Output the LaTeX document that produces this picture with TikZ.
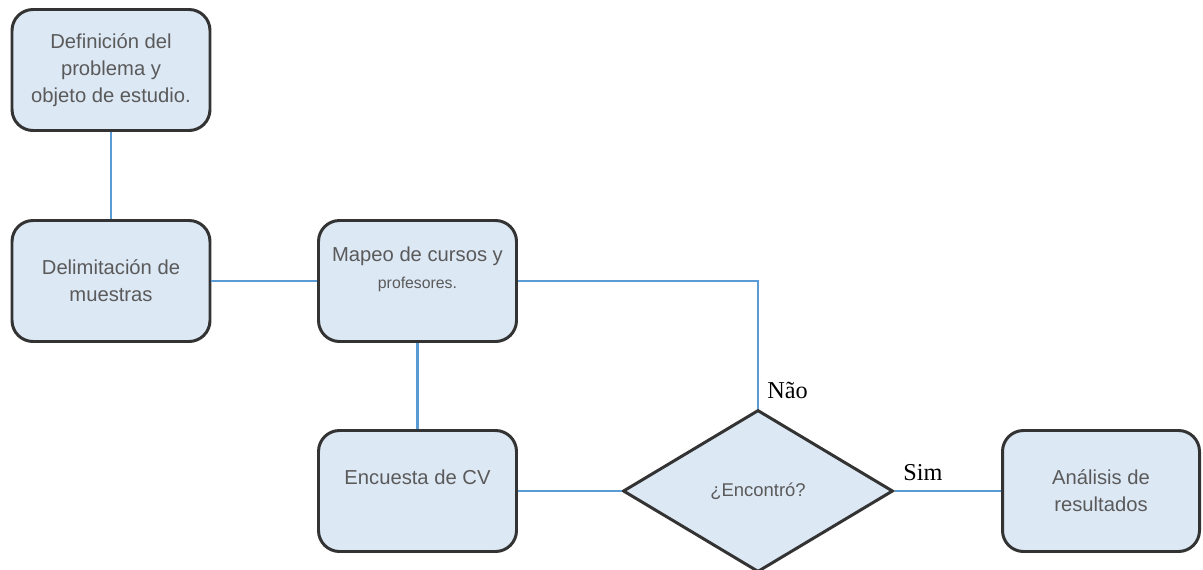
\documentclass[tikz,border=0pt]{standalone}
\usepackage{fontspec}
\setmainfont{Liberation Serif}
\newfontfamily\boxfont{Liberation Sans}
\usetikzlibrary{shapes.geometric}
\definecolor{boxfill}{HTML}{DDE8F5}
\definecolor{boxline}{HTML}{333333}
\definecolor{linkblue}{HTML}{5B9BD5}
\definecolor{txtgray}{HTML}{5A5A5A}
\tikzset{
  procbox/.style={draw=boxline, line width=1.7pt, fill=boxfill, rounded corners=0.42cm,
    minimum width=3.96cm, minimum height=2.42cm, align=center, text=txtgray,
    font=\boxfont\fontsize{11.5}{15.3}\selectfont, inner sep=2pt},
  decbox/.style={draw=boxline, line width=1.7pt, fill=boxfill, diamond,
    minimum width=5.40cm, minimum height=3.24cm, inner sep=0pt, text=txtgray,
    font=\boxfont\fontsize{10.5}{13}\selectfont},
  link/.style={draw=linkblue, line width=1.7pt},
  lbl/.style={font=\fontsize{13.8}{16}\selectfont, text=black, inner sep=0pt}
}
\begin{document}
\begin{tikzpicture}
\useasboundingbox (0,0) rectangle (24.06,-11.40);
\node[procbox] (def) at (2.22,-1.40) {Definición del\\problema y\\objeto de estudio.};
\node[procbox] (del) at (2.22,-5.62) {Delimitación de\\muestras};
\node[procbox] (map) at (8.35,-5.62) {Mapeo de cursos y\\{\fontsize{9}{15.3}\selectfont profesores.}\\\mbox{}};
\node[procbox] (enc) at (8.35,-9.82) {Encuesta de CV\\\mbox{}};
\node[decbox] (dec) at (15.16,-9.82) {¿Encontró?};
\node[procbox, minimum width=3.94cm] (ana) at (22.02,-9.82) {Análisis de\\resultados};
\coordinate (bend) at (15.16,-5.62);
\draw[link] (def) -- (del);
\draw[link] (del) -- (map);
\draw[link] (map) -- (enc);
\draw[link] (map.east) -- (bend) -- (dec.north);
\draw[link] (enc) -- (dec);
\draw[link] (dec) -- (ana);
\node[lbl, anchor=west] (nao) at (15.34,-7.80) {Não};
\node[lbl, anchor=west] (sim) at (18.06,-9.46) {Sim};
\end{tikzpicture}
\end{document}
